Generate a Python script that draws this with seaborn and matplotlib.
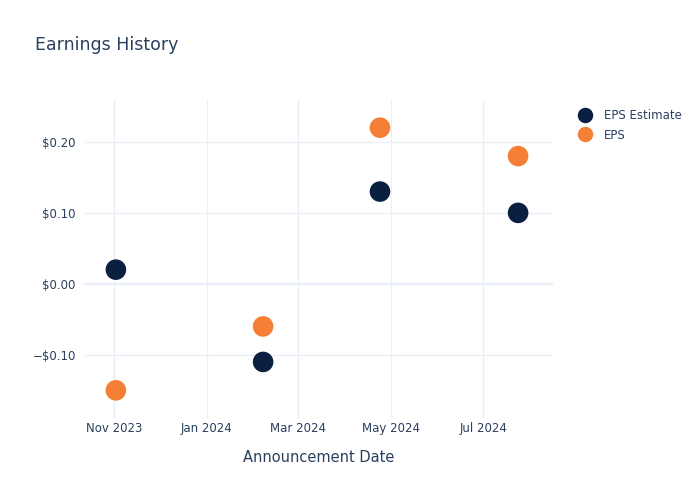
import matplotlib
matplotlib.use("Agg")
import matplotlib.pyplot as plt
import matplotlib.dates as mdates
import matplotlib.ticker as mticker
import pandas as pd
import seaborn as sns

dates = ["2023-11-02", "2024-02-07", "2024-04-24", "2024-07-24"]
eps_estimate = [0.02, -0.11, 0.13, 0.10]
eps_actual = [-0.15, -0.06, 0.22, 0.18]

df = pd.concat([
    pd.DataFrame({"date": pd.to_datetime(dates), "value": eps_estimate, "series": "EPS Estimate"}),
    pd.DataFrame({"date": pd.to_datetime(dates), "value": eps_actual, "series": "EPS"}),
])

sns.set_theme(style="white")
plt.rcParams["font.family"] = ["DejaVu Sans"]
txt = "#2a3f5f"

fig = plt.figure(figsize=(7, 5), dpi=100)
ax = fig.add_axes([0.12, 0.164, 0.67, 0.636])

sns.scatterplot(data=df, x="date", y="value", hue="series",
                palette={"EPS Estimate": "#0b1f41", "EPS": "#f58035"},
                s=220, linewidth=0, ax=ax, zorder=3)

ax.set_xlim(pd.Timestamp("2023-10-12"), pd.Timestamp("2024-08-16"))
ax.set_ylim(-0.189, 0.259)
ax.set_xticks(pd.to_datetime(["2023-11-01", "2024-01-01", "2024-03-01", "2024-05-01", "2024-07-01"]))
ax.xaxis.set_major_formatter(mdates.DateFormatter("%b %Y"))
ax.set_yticks([-0.1, 0.0, 0.1, 0.2])
ax.yaxis.set_major_formatter(mticker.FuncFormatter(
    lambda v, p: ("\u2212$%.2f" % abs(v)) if v < -1e-9 else "$%.2f" % abs(v)))
ax.grid(True, color="#ebf0f8", linewidth=1)
ax.axhline(0, color="#ebf0f8", linewidth=1.6, zorder=1)
for s in ax.spines.values():
    s.set_visible(False)
ax.tick_params(axis="both", length=0, labelsize=8.5, labelcolor=txt)
ax.tick_params(axis="x", pad=3)
ax.tick_params(axis="y", pad=6)
ax.set_xlabel("Announcement Date", fontsize=10.5, color=txt, labelpad=11)
ax.set_ylabel("")

leg = ax.legend(loc="upper left", bbox_to_anchor=(1.02, 1.005), frameon=False,
                fontsize=8.5, handletextpad=0.6, labelspacing=0.55, markerscale=0.75)
for t in leg.get_texts():
    t.set_color(txt)

fig.text(0.05, 0.9, "Earnings History", fontsize=12.5, color=txt)
fig.savefig("out.png", dpi=100)
